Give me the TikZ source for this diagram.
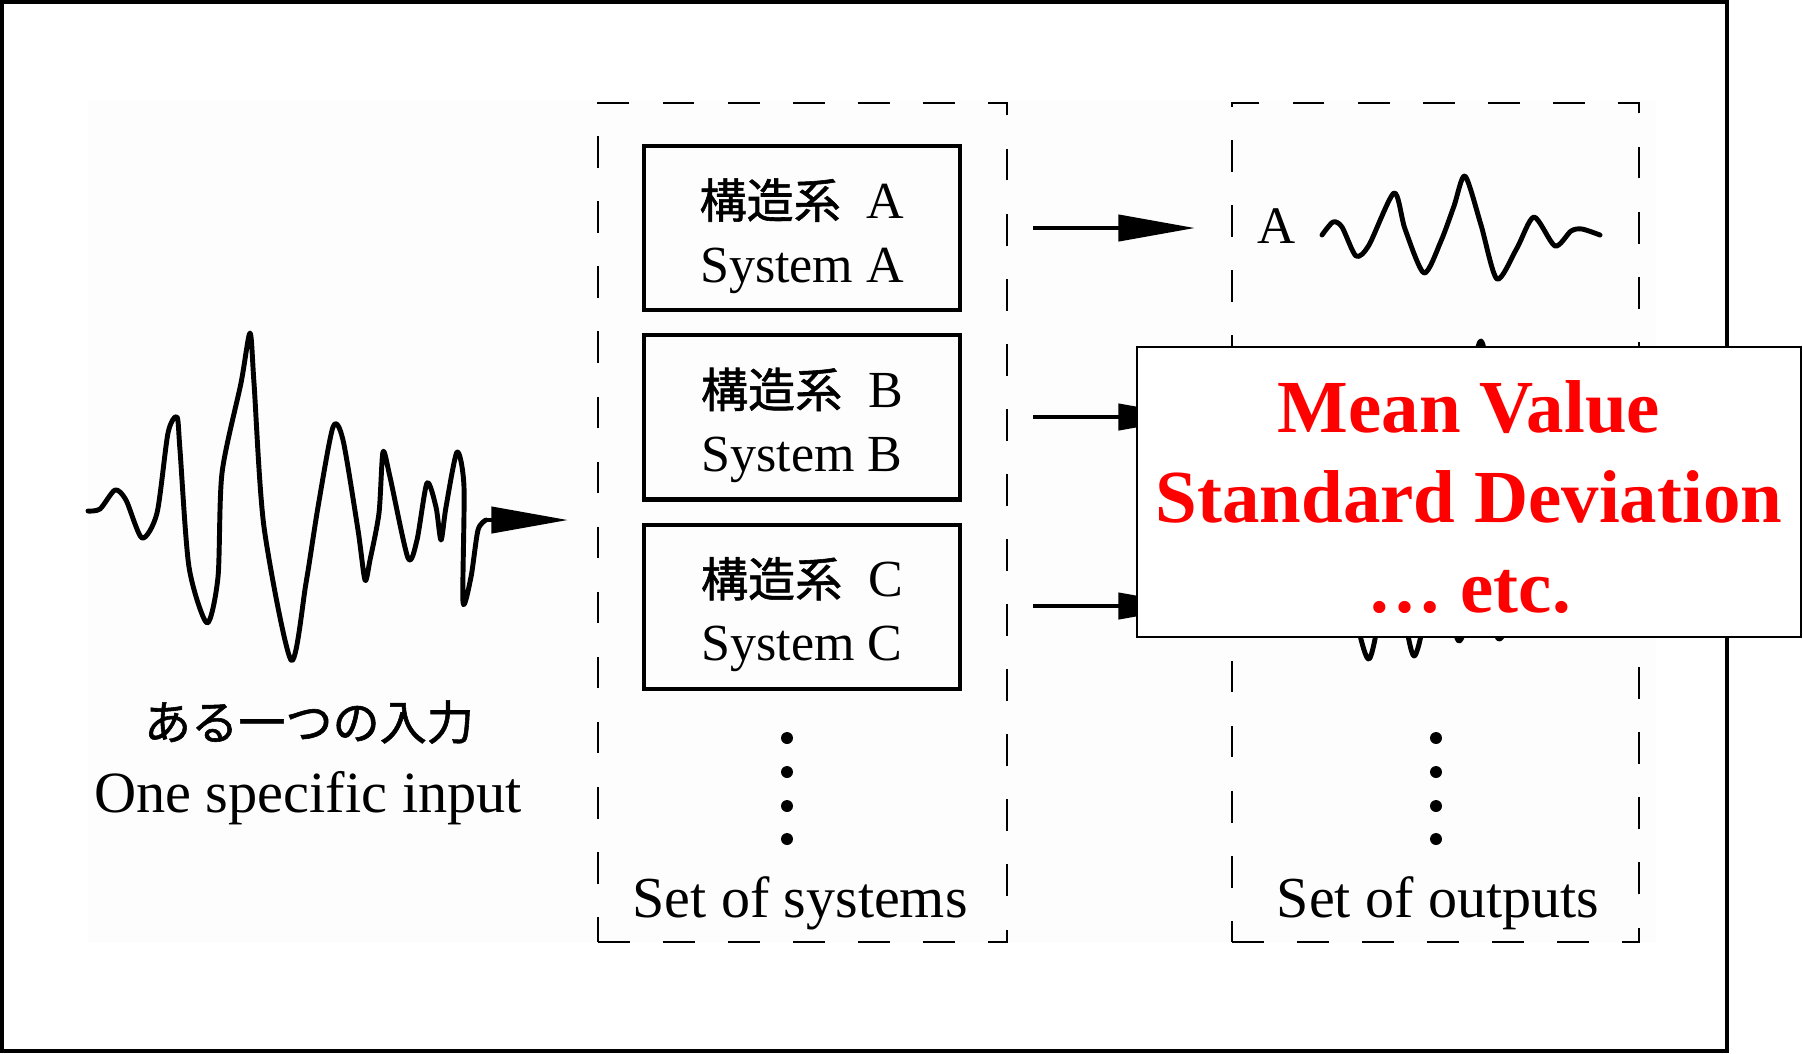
\documentclass[tikz,border=0pt]{standalone}
\usepackage{fontspec}
\setmainfont{Liberation Serif}
\newfontfamily\jpfont[FakeBold=1.2]{Noto Sans CJK JP}
\usetikzlibrary{arrows.meta,positioning}

\begin{document}
\begin{tikzpicture}[x=0.01cm,y=-0.01cm,
    wave/.style={line width=1.4pt, line join=round, line cap=round},
    sysbox/.style={draw, line width=1.2pt, minimum width=3.16cm, minimum height=1.64cm,
        align=center, font=\fontsize{14.8}{18.2}\selectfont},
    setframe/.style={draw, line width=0.6pt, dash pattern=on 9pt off 9.5pt},
    bigarrow/.style={line width=1.2pt, -{Triangle[length=21.8pt,width=7.4pt]}},
    setlabel/.style={anchor=base, font=\fontsize{16.5}{19}\selectfont}]
    \useasboundingbox (0,0) rectangle (1803,1053);
    \fill[black!0.7] (88,100) rectangle (1656,943);
    \draw[line width=1pt] (2,2) rectangle (1727,1051);

    % input wave
    \draw[wave] plot[smooth, tension=0.45] coordinates {(88,511) (100,509) (115,490) (126,500)
        (142,538) (157,513) (168,433) (177,417) (180,450) (189,567) (207,623) (218,577)
        (222,473) (241,383) (250,333) (254,383) (264,527) (291,660) (306,583) (318,507)
        (333,427) (343,440) (358,530) (365,580) (370,560) (379,513) (383,452) (390,477)
        (408,558) (417,540) (427,483) (436,507) (441,540) (446,507) (457,452) (464,487)
        (463,602) (471,577) (478,530) (486,520)};
    \coordinate (inend) at (486,520);
    \coordinate (intip) at (568,520);
    \draw[bigarrow] (inend) -- (intip);
    \node (injp) at (309,722) {\fontsize{13.4}{16}\selectfont\jpfont ある一つの入力};
    \node[setlabel, font=\fontsize{16.6}{19}\selectfont] (inen) at (308,812) {One specific input};

    % set of systems
    \node[setframe, minimum width=4.09cm, minimum height=8.39cm] (sysset) at (802.5,522.5) {};
    \node[sysbox] (sysA) at (802,228)
        {\rule{0pt}{15.7pt}{\jpfont\fontsize{13.4}{18.2}\selectfont 構造系}\hspace{0.5em}A\\System A};
    \node[sysbox, below=0.21cm of sysA] (sysB)
        {\rule{0pt}{15.7pt}{\jpfont\fontsize{13.4}{18.2}\selectfont 構造系}\hspace{0.5em}B\\System B};
    \node[sysbox, below=0.21cm of sysB] (sysC)
        {\rule{0pt}{15.7pt}{\jpfont\fontsize{13.4}{18.2}\selectfont 構造系}\hspace{0.5em}C\\System C};
    \fill (787,738) circle[radius=1.7pt];
    \fill (787,772) circle[radius=1.7pt];
    \fill (787,806) circle[radius=1.7pt];
    \fill (787,839) circle[radius=1.7pt];
    \node[setlabel] (syslab) at (800,917) {Set of systems};

    % arrows to outputs
    \coordinate (fromA) at (1033,228);
    \coordinate (toA) at (1195,228);
    \coordinate (fromB) at (1033,417);
    \coordinate (toB) at (1195,417);
    \coordinate (fromC) at (1033,606);
    \coordinate (toC) at (1195,606);
    \draw[bigarrow] (fromA) -- (toA);
    \draw[bigarrow] (fromB) -- (toB);
    \draw[bigarrow] (fromC) -- (toC);

    % set of outputs
    \node[setframe, minimum width=4.07cm, minimum height=8.39cm] (outset) at (1435.5,522.5) {};
    \node[font=\fontsize{15}{18}\selectfont] (outlabA) at (1277,226) {A};
    \draw[wave] plot[smooth, tension=0.45] coordinates {(1322,235) (1333,222) (1342,227)
        (1356,256) (1369,245) (1394,193) (1405,229) (1424,273) (1441,241) (1454,206)
        (1465,176) (1481,225) (1497,279) (1517,248) (1534,217) (1555,246) (1571,231)
        (1582,229) (1600,235)};
    \draw[wave] plot[smooth, tension=0.45] coordinates {(1322,420) (1340,400) (1360,440)
        (1385,380) (1405,460) (1430,370) (1455,465) (1481,341) (1505,480) (1530,400)
        (1555,430) (1580,410) (1600,418)};
    \draw[wave] plot[smooth, tension=0.45] coordinates {(1322,606) (1345,580) (1369,659)
        (1392,560) (1414,656) (1437,570) (1459,641) (1480,580) (1499,639) (1525,590)
        (1550,615) (1575,600) (1600,606)};
    \fill (1436,738) circle[radius=1.7pt];
    \fill (1436,772) circle[radius=1.7pt];
    \fill (1436,806) circle[radius=1.7pt];
    \fill (1436,839) circle[radius=1.7pt];
    \node[setlabel] (outlab) at (1438,917) {Set of outputs};

    % statistics box on top
    \node[draw, fill=white, line width=0.5pt, minimum width=6.63cm, minimum height=2.9cm,
        align=center, text=red, font=\bfseries\fontsize{21.3}{25.6}\selectfont]
        (stats) at (1469,492) {\rule{0pt}{17.5pt}Mean Value\\Standard Deviation\\… etc.};
\end{tikzpicture}
\end{document}
